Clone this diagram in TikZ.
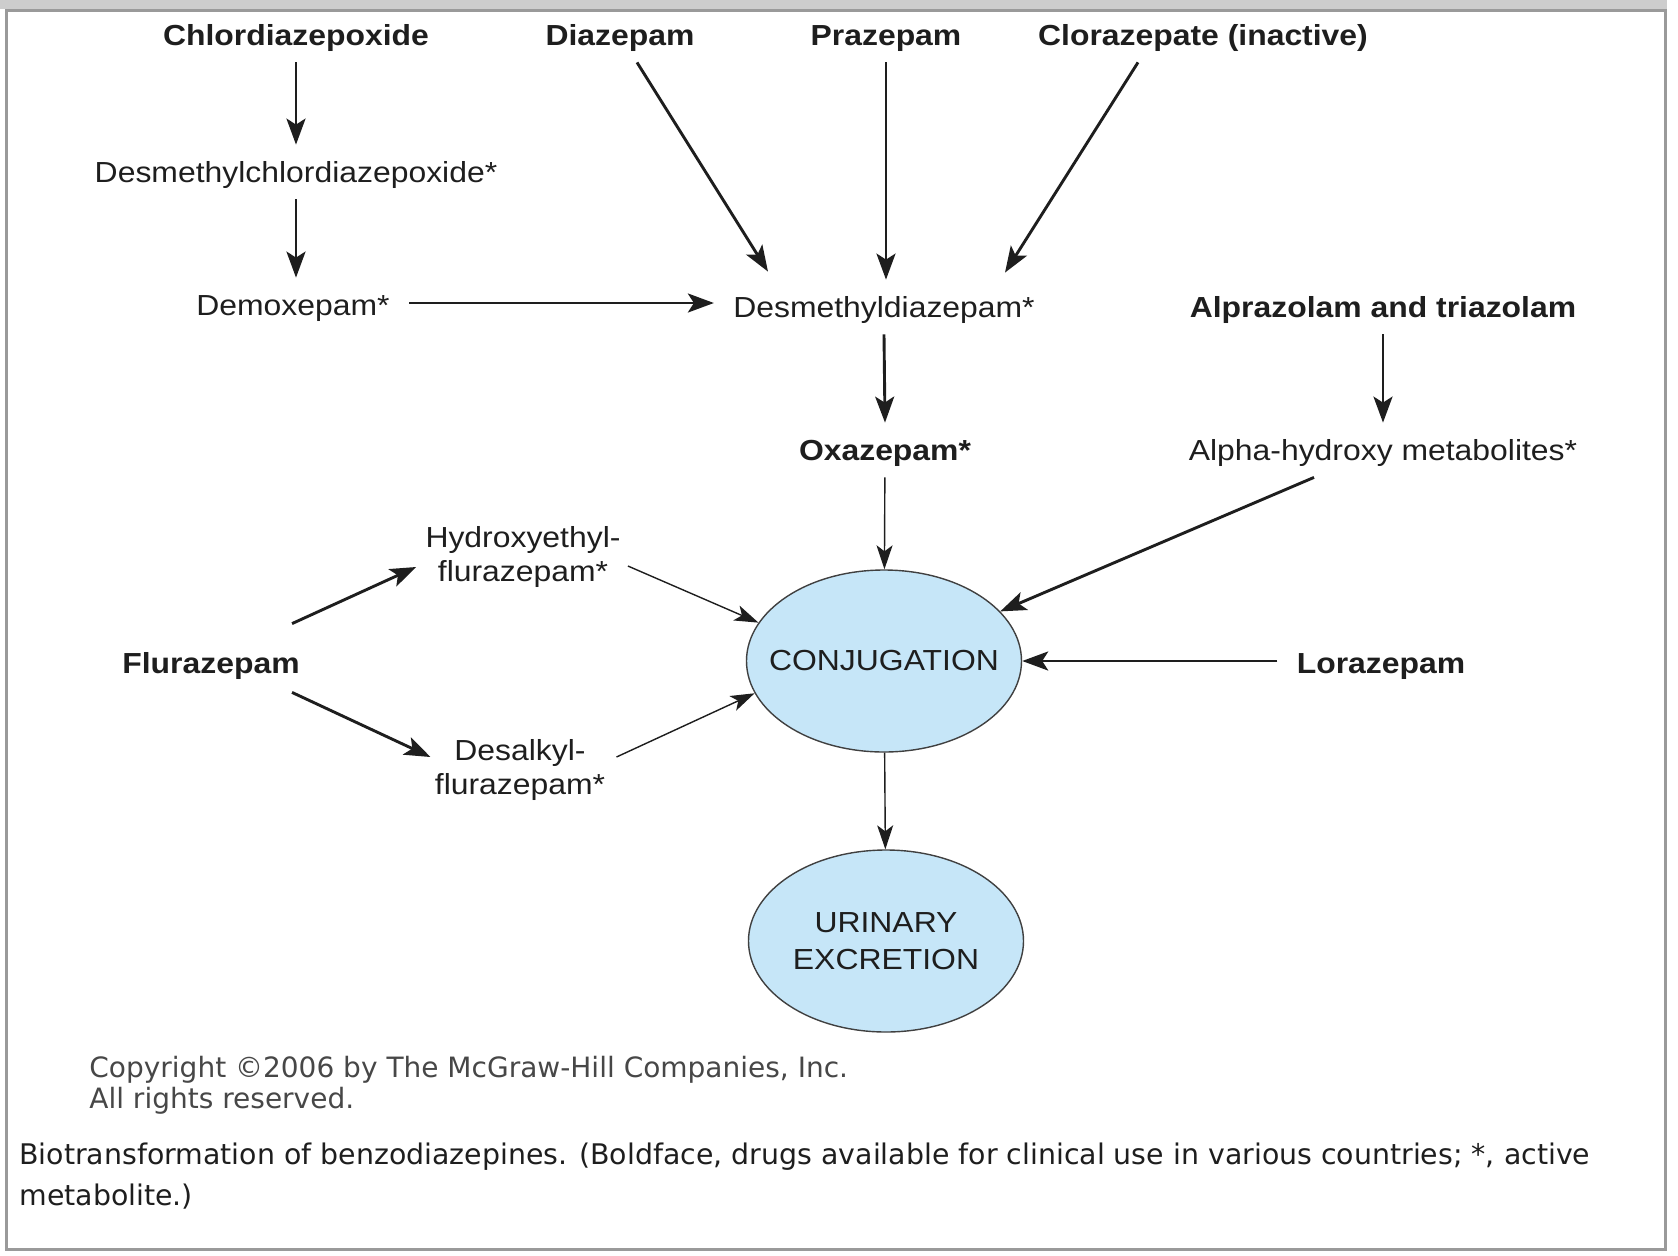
\documentclass[tikz,border=0pt]{standalone}
\usepackage{fontspec}
\setmainfont{Liberation Sans}[FakeStretch=1.1]
\newfontfamily\notefont{DejaVu Sans}
\usetikzlibrary{arrows.meta,shapes.geometric}
\definecolor{ink}{HTML}{1E1E1E}
\definecolor{poolblue}{HTML}{C6E6F8}
\definecolor{rim}{HTML}{9A9A9A}
\definecolor{band}{HTML}{CDCDCD}

\begin{document}
\begin{tikzpicture}
	[x=0.5pt,y=-0.5pt,
	drug/.style={font=\fontsize{14.5}{17}\selectfont\bfseries, text=ink, text height=13pt, text depth=3pt, inner xsep=9.5pt, inner ysep=5.5pt, anchor=base},
	meta/.style={drug, font=\fontsize{14.5}{17}\selectfont},
	twoline/.style={font=\fontsize{14.5}{17}\selectfont, text=ink, align=center, inner xsep=9.5pt, inner ysep=5.5pt},
	pool/.style={ellipse, draw=ink!85, line width=0.7pt, fill=poolblue, minimum width=137.5pt, minimum height=91pt, inner sep=0pt, align=center, text=ink, font=\fontsize{14.5}{18.5}\selectfont},
	note/.style={anchor=base west, inner sep=0pt, font=\notefont\fontsize{14}{16}\selectfont, text=black!72},
	conv/.style={-{Stealth[length=13pt,width=9.5pt,inset=3pt]}, line width=1.45pt, draw=ink},
	weak/.style={-{Stealth[length=12pt,width=8pt,inset=3pt]}, line width=0.7pt, draw=ink}]
	\useasboundingbox (0,0) rectangle (1678,1255);
	\fill[band] (0,0) rectangle (1667,9);
	\draw[rim, line width=1.4pt] (6.5,10.5) rectangle (1665.5,1249.5);

	\node[drug] (chl) at (296,45) {Chlordiazepoxide};
	\node[drug] (dia) at (620,45) {Diazepam};
	\node[drug] (pra) at (886,45) {Prazepam};
	\node[drug] (clo) at (1203,45) {Clorazepate (inactive)};
	\node[meta] (dmc) at (296,182) {Desmethylchlordiazepoxide*};
	\node[meta] (dmx) at (293,315) {Demoxepam*};
	\node[meta] (dmd) at (884,317) {Desmethyldiazepam*};
	\node[drug] (alp) at (1383,317) {Alprazolam and triazolam};
	\node[drug] (oxa) at (885,460) {Oxazepam*};
	\node[meta] (ahm) at (1383,460) {Alpha-hydroxy metabolites*};
	\node[drug] (flu) at (211,673) {Flurazepam};
	\node[twoline] (hyd) at (523,557) {Hydroxyethyl-\\flurazepam*};
	\node[twoline] (des) at (520,770) {Desalkyl-\\flurazepam*};
	\node[pool] (conj) at (884,661) {\makebox[0pt]{CONJUGATION}};
	\node[drug] (lor) at (1381,673) {Lorazepam};
	\node[pool] (uri) at (886,941) {URINARY\\EXCRETION};

	\draw[conv] (chl.south) -- (dmc.north);
	\draw[conv] (dmc.south) -- (dmc.south |- dmx.north);
	\draw[conv] ([xshift=8.5pt]dia.south) -- ([xshift=-58pt,yshift=4pt]dmd.north);
	\draw[conv] (pra.south) -- (pra.south |- dmd.north);
	\draw[conv] ([xshift=-32.5pt]clo.south) -- ([xshift=60.5pt,yshift=3.5pt]dmd.north);
	\draw[conv] ([yshift=1pt]dmx.east) -- ([yshift=2pt]dmd.west);
	\draw[conv] (dmd.south) -- (oxa.north);
	\draw[conv] (alp.south) -- (ahm.north);
	\draw[conv] ([xshift=-34.5pt]ahm.south) -- (conj);
	\draw[conv] ([yshift=1pt]lor.west) -- (conj.east);
	\draw[conv] ([xshift=-13.5pt,yshift=6pt]flu.north east) -- ([xshift=5pt,yshift=-5pt]hyd.west);
	\draw[conv] ([xshift=-13.5pt,yshift=-1pt]flu.south east) -- ([xshift=7.5pt,yshift=6.5pt]des.west);
	\draw[weak] (oxa) -- (conj);
	\draw[weak] ([xshift=-6pt,yshift=-4.5pt]hyd.east) -- (conj.163);
	\draw[weak] ([xshift=-4pt,yshift=6.5pt]des.east) -- (conj.194);
	\draw[weak] (conj) -- (uri);

	\node[note] (cr1) at (89,1077) {Copyright ©2006 by The McGraw-Hill Companies, Inc.};
	\node[note] (cr2) at (89,1108) {All rights reserved.};
	\node[note, font=\notefont\fontsize{14.2}{20}\selectfont, text=ink] (cap1) at (19,1164) {Biotransformation of benzodiazepines. (Boldface, drugs available for clinical use in various countries; *, active};
	\node[note, font=\notefont\fontsize{14.2}{20}\selectfont, text=ink] (cap2) at (19,1205) {metabolite.)};
\end{tikzpicture}
\end{document}
